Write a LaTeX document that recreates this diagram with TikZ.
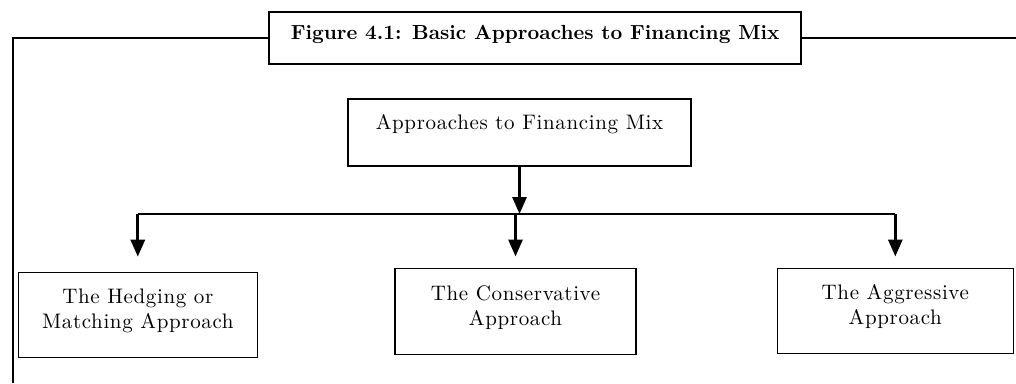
\documentclass[tikz,border=0pt]{standalone}
\usepackage{fontspec}
\setmainfont{lmroman10-regular.otf}[LetterSpace=3]
\newfontfamily\titlefont{lmroman10-bold.otf}
\usetikzlibrary{arrows.meta}
\newcommand{\lowpad}{\rule[-12pt]{0pt}{0pt}}
\tikzset{
  frameline/.style={line width=2pt},
  box/.style={draw, line width=1.6pt, rectangle, inner sep=0pt, align=center,
    font=\fontsize{21}{25}\selectfont},
  busline/.style={line width=1.5pt},
  arr/.style={line width=3pt, -{Triangle[width=14pt,length=17pt]}}
}
\begin{document}
\begin{tikzpicture}[x=1pt,y=-1pt]
\useasboundingbox (0,0) rectangle (1016,383);
% title
\node[draw, line width=2pt, inner sep=0pt, minimum width=532pt, minimum height=52pt,
  text height=14pt, text depth=12pt, font=\titlefont\fontsize{20.4}{24}\selectfont]
  (title) at (535.2,38.3) {Figure 4.1: Basic Approaches to Financing Mix};
\coordinate (frameBL) at (13,383);
\coordinate (frameR) at (1016,38.3);
\draw[frameline] (frameBL) |- (title.west);
\draw[frameline] (title.east) -- (frameR);
% root
\node[box, minimum width=343pt, minimum height=67pt, text height=14pt, text depth=20.8pt]
  (root) at (519.5,132.7) {Approaches to Financing Mix};
% children
\node[box, minimum width=239pt, minimum height=85pt] (hedge) at (137.8,315)
  {The Hedging or\\Matching Approach\lowpad};
\node[box, minimum width=241pt, minimum height=86pt] (cons) at (515.5,311.3)
  {The Conservative\\Approach\lowpad};
\node[box, minimum width=236pt, minimum height=85pt] (aggr) at (895.3,310.8)
  {The Aggressive\\Approach\lowpad};
% connectors
\coordinate (bus) at (0,214);
\draw[busline] (hedge.north |- bus) -- (aggr.north |- bus);
\draw[arr] (root.south) -- (root.south |- bus);
\draw[arr, shorten >=15pt] (hedge.north |- bus) -- (hedge.north);
\draw[arr, shorten >=11pt] (cons.north |- bus) -- (cons.north);
\draw[arr, shorten >=11pt] (aggr.north |- bus) -- (aggr.north);
\end{tikzpicture}
\end{document}
